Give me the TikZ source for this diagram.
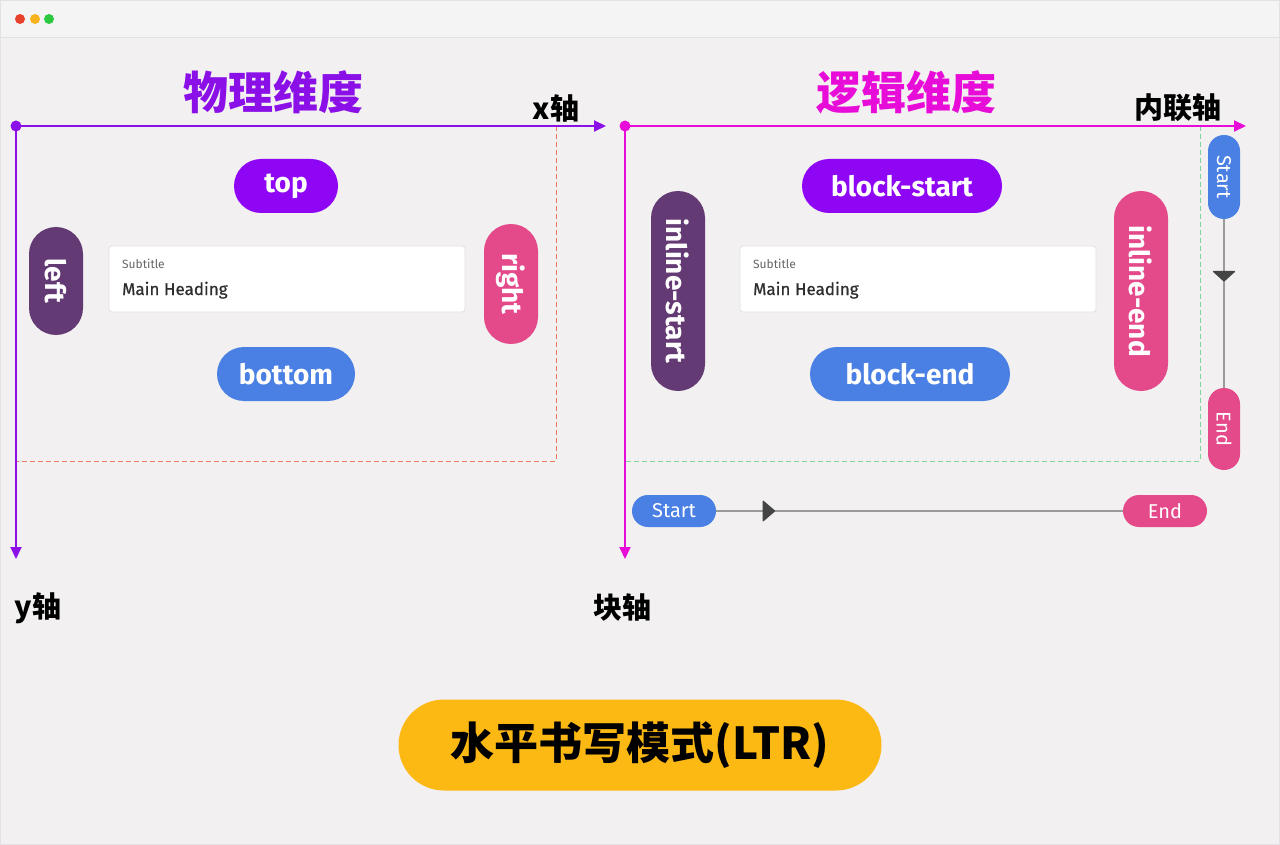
\documentclass[tikz,border=0pt]{standalone}
\usepackage{fontspec}
\setmainfont{Fira Sans}
\newfontfamily\cjk{Noto Sans CJK SC}
\newfontfamily\medfont{Fira Sans}[FakeBold=0.6]
\usetikzlibrary{arrows.meta,decorations.markings}
\definecolor{bgc}{HTML}{F2F0F1}
\definecolor{barc}{HTML}{F5F4F5}
\definecolor{linec}{HTML}{E3E1E3}
\definecolor{axisp}{HTML}{8B10E8}
\definecolor{axism}{HTML}{E80CD8}
\definecolor{pviolet}{HTML}{8E06F4}
\definecolor{pdark}{HTML}{633A74}
\definecolor{ppink}{HTML}{E4498A}
\definecolor{pblue}{HTML}{4A80E3}
\definecolor{pyellow}{HTML}{FDB913}
\definecolor{dred}{HTML}{E57A5E}
\definecolor{dgreen}{HTML}{7DD69A}
\definecolor{flowc}{HTML}{9A9A9A}
\definecolor{tipc}{HTML}{444444}
\definecolor{dotr}{HTML}{E8412C}
\definecolor{doty}{HTML}{F8B21C}
\definecolor{dotg}{HTML}{2BC840}
\tikzset{
  pill/.style={rectangle, rounded corners=27pt, minimum height=54pt, inner sep=0pt,
    text=white, font=\bfseries\fontsize{28}{28}\selectfont},
  minipill/.style={rectangle, rounded corners=16pt, minimum height=32pt, inner sep=0pt,
    text=white, font=\fontsize{20}{20}\selectfont},
  card/.style={rectangle, fill=white, draw=linec, line width=0.8pt, rounded corners=3pt,
    minimum width=356pt, minimum height=66pt, inner sep=0pt},
  subt/.style={anchor=base west, inner sep=0pt, text=black!60, font=\fontsize{12}{12}\selectfont},
  mainh/.style={anchor=base west, inner sep=0pt, text=black!82, font=\medfont\fontsize{17}{17}\selectfont},
  axislab/.style={inner sep=0pt, font=\cjk\bfseries\fontsize{29}{29}\selectfont},
  titlelab/.style={inner sep=0pt, font=\cjk\bfseries\fontsize{45}{45}\selectfont},
  axisline/.style={line width=2pt, -{Triangle[length=12pt,width=11pt]}},
  flowline/.style={draw=flowc, line width=1.3pt},
}
\begin{document}
\begin{tikzpicture}[x=1pt,y=-1pt]
\useasboundingbox (0,0) rectangle (1280,845);
% window
\fill[bgc] (0,0) rectangle (1280,845);
\fill[barc] (0,0) rectangle (1280,38);
\draw[linec, line width=1pt] (0,38) -- (1280,38);
\draw[linec, line width=1pt] (0.5,0.5) rectangle (1279.5,844.5);
\fill[dotr] (20,19) circle (5pt);
\fill[doty] (35,19) circle (5pt);
\fill[dotg] (49,19) circle (5pt);

% ---------- physical ----------
\node[titlelab, text=axisp] (t1) at (273,92) {物理维度};
\coordinate (o1) at (16,126);
\coordinate (x1) at (606,126);
\coordinate (y1) at (16,559);
\coordinate (r1a) at (556,126);
\coordinate (r1b) at (556,461);
\coordinate (r1c) at (16,461);
\draw[dred, line width=0.8pt, dash pattern=on 5pt off 3pt] (r1a) -- (r1b) -- (r1c);
\draw[axisp, axisline] (o1) -- (x1);
\draw[axisp, axisline] (o1) -- (y1);
\fill[axisp] (o1) circle (5.5pt);
\node[axislab] (xl) at (556,108) {x轴};
\node[axislab] (yl) at (38,608) {y轴};

\node[pill, fill=pviolet, minimum width=104pt] (top) at (286,186) {top};
\node[pill, fill=pblue, minimum width=138pt] (bottom) at (286,374) {bottom};
\node[pill, fill=pdark, minimum width=108pt, rotate=-90] (left) at (56,281) {left};
\node[pill, fill=ppink, minimum width=120pt, rotate=-90] (right) at (511,284) {right};
\node[card] (card1) at (287,279) {};
\node[subt] (sub1) at (122,269) {Subtitle};
\node[mainh] (mh1) at (122,295) {Main Heading};

% ---------- logical ----------
\node[titlelab, text=axism] (t2) at (906,92) {逻辑维度};
\coordinate (o2) at (625,126);
\coordinate (x2) at (1246,126);
\coordinate (y2) at (625,559);
\coordinate (r2a) at (1200,126);
\coordinate (r2b) at (1200,461);
\coordinate (r2c) at (625,461);
\draw[dgreen, line width=0.8pt, dash pattern=on 5pt off 3pt] (r2a) -- (r2b) -- (r2c);
\draw[axism, axisline] (o2) -- (x2);
\draw[axism, axisline] (o2) -- (y2);
\fill[axism] (o2) circle (5.5pt);
\node[axislab] (il) at (1178,108) {内联轴};
\node[axislab] (bl) at (622,608) {块轴};

\node[pill, fill=pviolet, minimum width=200pt] (bstart) at (902,186) {block-start};
\node[pill, fill=pblue, minimum width=200pt] (bend) at (910,374) {block-end};
\node[pill, fill=pdark, minimum width=200pt, rotate=-90] (istart) at (678,291) {inline-start};
\node[pill, fill=ppink, minimum width=200pt, rotate=-90] (iend) at (1141,291) {inline-end};
\node[card] (card2) at (918,279) {};
\node[subt] (sub2) at (753,269) {Subtitle};
\node[mainh] (mh2) at (753,295) {Main Heading};

% vertical flow
\node[minipill, fill=pblue, minimum width=84pt, rotate=-90] (vs) at (1224,177) {Start};
\node[minipill, fill=ppink, minimum width=82pt, rotate=-90] (ve) at (1224,429) {End};
\draw[flowline, postaction={decorate}, decoration={markings,
  mark=at position 0.37 with {\arrow[tipc]{Triangle[length=11pt,width=24pt,round]}}}] (vs) -- (ve);

% horizontal flow
\node[minipill, fill=pblue, minimum width=84pt] (hs) at (674,511) {Start};
\node[minipill, fill=ppink, minimum width=84pt] (he) at (1165,511) {End};
\draw[flowline, postaction={decorate}, decoration={markings,
  mark=at position 0.145 with {\arrow[tipc]{Triangle[length=13pt,width=22pt,round]}}}] (hs) -- (he);

% mode
\node[rectangle, fill=pyellow, rounded corners=45.5pt, minimum width=483pt, minimum height=91pt,
  inner sep=0pt, font=\cjk\bfseries\fontsize{44}{44}\selectfont] (mode) at (640,745) {水平书写模式(LTR)};
\end{tikzpicture}
\end{document}
